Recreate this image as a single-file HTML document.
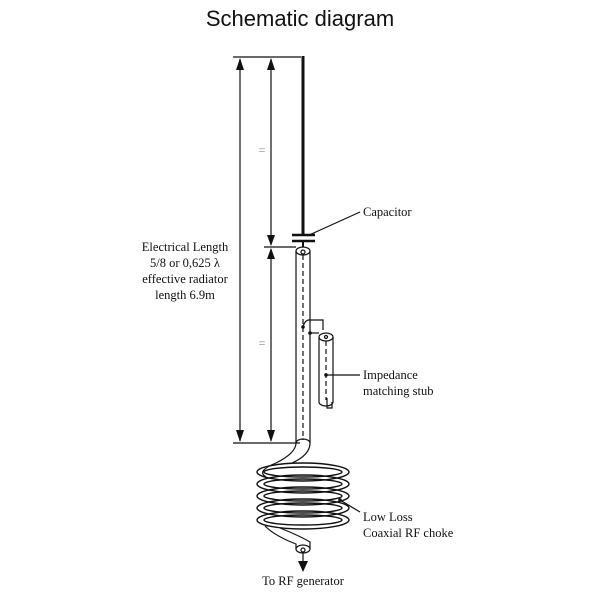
<!DOCTYPE html>
<html><head><style>body{margin:0;background:#fff}</style></head><body>
<svg width="600" height="600" viewBox="0 0 600 600" xmlns="http://www.w3.org/2000/svg" font-family="Liberation Serif, serif">
<text x="300" y="26" font-family="Liberation Sans, sans-serif" font-size="22" text-anchor="middle" fill="#111">Schematic diagram</text>
<g stroke="#111" fill="none" stroke-width="1.2">
<line x1="233" y1="57" x2="301" y2="57"/>
<line x1="233" y1="443" x2="300" y2="443"/>
<line x1="264" y1="247" x2="296" y2="247"/>
<line x1="240" y1="59" x2="240" y2="441"/>
<line x1="271" y1="59" x2="271" y2="245"/>
<line x1="271" y1="249" x2="271" y2="441"/>
</g>
<g fill="#111">
<path d="M236,70 L244,70 L240,58z"/><path d="M236,430 L244,430 L240,442z"/>
<path d="M267,70 L275,70 L271,58z"/><path d="M267,235 L275,235 L271,246z"/>
<path d="M267,259 L275,259 L271,248z"/><path d="M267,430 L275,430 L271,442z"/>
</g>
<text x="262" y="154" font-size="12" fill="#888" text-anchor="middle">=</text>
<text x="262" y="347" font-size="12" fill="#888" text-anchor="middle">=</text>
<line x1="303" y1="56" x2="303" y2="235" stroke="#111" stroke-width="3"/>
<line x1="292" y1="235" x2="315" y2="235" stroke="#111" stroke-width="2.5"/>
<line x1="292" y1="241" x2="315" y2="241" stroke="#111" stroke-width="2.5"/>
<line x1="303" y1="241" x2="303" y2="247" stroke="#111" stroke-width="2"/>
<g stroke="#111" fill="none" stroke-width="1.2">
<line x1="296" y1="251" x2="296" y2="443"/><line x1="310" y1="251" x2="310" y2="443"/>
<ellipse cx="303" cy="251" rx="7" ry="4"/><circle cx="303" cy="252" r="2"/>
<path d="M296,443 a7,4 0 0 1 14,0"/>
<line x1="303" y1="255" x2="303" y2="440" stroke-dasharray="5,3"/>
<path d="M303,327 q2,-8 8,-7 h12 v10"/>
<path d="M310,333 h9"/>
<line x1="319" y1="337" x2="319" y2="402"/><line x1="333" y1="337" x2="333" y2="402"/>
<ellipse cx="326" cy="337" rx="7" ry="4"/><circle cx="326" cy="337" r="1.5"/>
<path d="M319,402 a7,4 0 0 0 14,0"/>
<line x1="326" y1="341" x2="326" y2="400" stroke-dasharray="5,3"/>
<path d="M327,398 v10 h5 v-6"/>
<path d="M296,443 q0,10 -20,20 q-20,8 -10,14"/>
<path d="M310,443 q0,12 -18,20"/>
<g stroke-width="1.4">
<ellipse cx="303" cy="472" rx="46" ry="9"/><ellipse cx="303" cy="472" rx="39" ry="5"/>
<ellipse cx="303" cy="484" rx="46" ry="9"/><ellipse cx="303" cy="484" rx="39" ry="5"/>
<ellipse cx="303" cy="496" rx="46" ry="9"/><ellipse cx="303" cy="496" rx="39" ry="5"/>
<ellipse cx="303" cy="508" rx="46" ry="9"/><ellipse cx="303" cy="508" rx="39" ry="5"/>
<ellipse cx="303" cy="520" rx="46" ry="9"/><ellipse cx="303" cy="520" rx="39" ry="5"/>
</g>
<path d="M265,526 q10,10 31,18 v5"/><path d="M280,528 q20,8 30,14 v7"/>
<ellipse cx="303" cy="549" rx="7" ry="4" fill="#fff"/><circle cx="303" cy="550" r="2"/>
<line x1="303" y1="552" x2="303" y2="562"/>
<line x1="307" y1="236" x2="360" y2="212"/>
<line x1="326" y1="375" x2="360" y2="375"/>
<line x1="340" y1="500" x2="360" y2="512"/>
</g>
<circle cx="303" cy="327" r="1.8" fill="#111"/><circle cx="310" cy="333" r="1.8" fill="#111"/>
<circle cx="326" cy="375" r="1.8" fill="#111"/><circle cx="340" cy="500" r="1.8" fill="#111"/>
<path d="M298,561 L308,561 L303,572z" fill="#111"/>
<g font-size="12.5" fill="#111">
<text x="363" y="216">Capacitor</text>
<text x="363" y="379">Impedance</text>
<text x="363" y="395">matching stub</text>
<text x="363" y="521">Low Loss</text>
<text x="363" y="537">Coaxial RF choke</text>
<text x="303" y="585" text-anchor="middle">To RF generator</text>
<text x="185" y="251" text-anchor="middle">Electrical Length</text>
<text x="185" y="267" text-anchor="middle">5/8 or 0,625 λ</text>
<text x="185" y="283" text-anchor="middle">effective radiator</text>
<text x="185" y="299" text-anchor="middle">length 6.9m</text>
</g>
</svg>
</body></html>
